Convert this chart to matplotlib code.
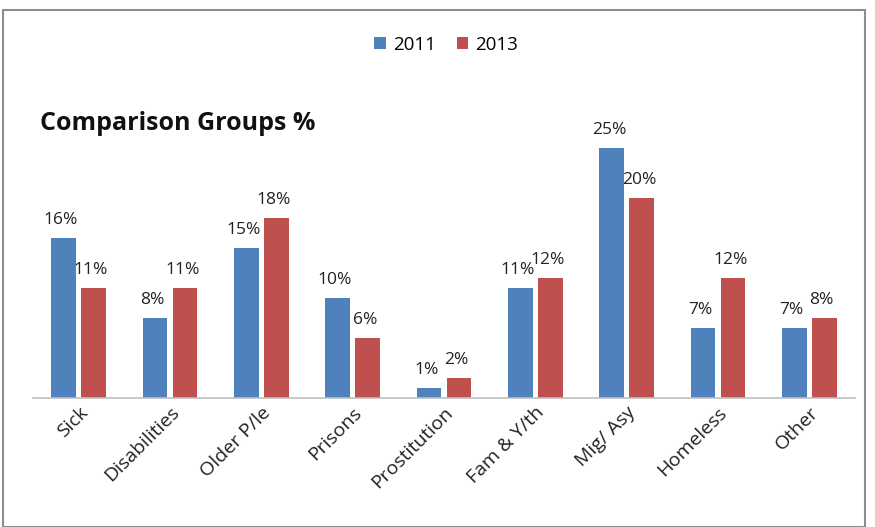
import matplotlib
matplotlib.use("Agg")
import matplotlib.pyplot as plt
import numpy as np
from matplotlib.patches import Rectangle

categories = ["Sick", "Disabilities", "Older P/le", "Prisons", "Prostitution",
              "Fam & Y/th", "Mig/ Asy", "Homeless", "Other"]
vals_2011 = [16, 8, 15, 10, 1, 11, 25, 7, 7]
vals_2013 = [11, 11, 18, 6, 2, 12, 20, 12, 8]
series = ["2011", "2013"]
colors = ["#4F81BD", "#C0504D"]

plt.rcParams["font.family"] = ["Open Sans", "DejaVu Sans"]

fig = plt.figure(figsize=(8.75, 5.27), dpi=100)
ax = fig.add_axes([33 / 875, 129 / 527, 822 / 875, 280 / 527])

x = np.arange(len(categories))
w = 0.27
off = 0.165
b1 = ax.bar(x - off, vals_2011, w, color=colors[0], label=series[0])
b2 = ax.bar(x + off, vals_2013, w, color=colors[1], label=series[1])
for bars in (b1, b2):
    for r in bars:
        ax.annotate(f"{int(r.get_height())}%", (r.get_x() + r.get_width() / 2, r.get_height()),
                    xytext=(-2, 7), textcoords="offset points", ha="center", va="bottom",
                    fontsize=12.5, color="#222222")

ax.set_xlim(-0.5, len(categories) - 0.5)
ax.set_ylim(0, 28)
ax.set_yticks([])
ax.set_xticks(x)
ax.set_xticklabels(categories, rotation=45, ha="right", rotation_mode="anchor",
                   fontsize=14, color="#222222")
ax.tick_params(axis="x", length=0, pad=4)
for s in ["top", "right", "left"]:
    ax.spines[s].set_visible(False)
ax.spines["bottom"].set_color("#BFBFBF")
ax.spines["bottom"].set_linewidth(1.2)

fig.text(40 / 875, 1 - 124 / 527, "Comparison Groups %", fontsize=18, fontweight="bold",
         va="center", ha="left", color="#111111")
fig.legend(handles=[b1, b2], labels=series, loc="center", bbox_to_anchor=(0.51, 1 - 45 / 527),
           ncol=2, frameon=False, fontsize=13.5, handlelength=0.6, handleheight=0.6,
           handletextpad=0.4, columnspacing=1.1)

fig.patches.append(Rectangle((3 / 875, 0), 862 / 875, 1 - 10 / 527, transform=fig.transFigure,
                             fill=False, edgecolor="#8C8C8C", linewidth=1.5))

fig.savefig("out.png", dpi=100)
